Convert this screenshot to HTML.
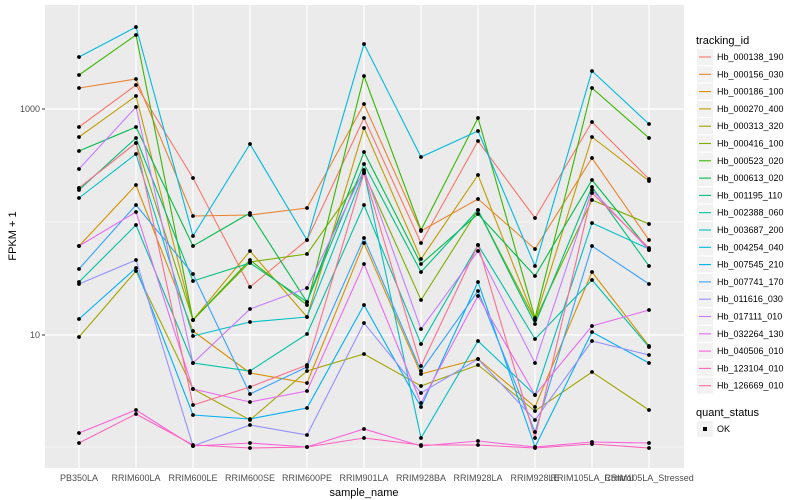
<!DOCTYPE html>
<html><head><meta charset="utf-8"><style>
html,body{margin:0;padding:0;background:#fff;}
svg{display:block;font-family:"Liberation Sans",sans-serif;}
</style></head><body>
<svg id="s" width="800" height="500" viewBox="0 0 800 500" xmlns="http://www.w3.org/2000/svg">
<rect x="0" y="0" width="800" height="500" fill="#fff"/>
<rect x="45" y="5" width="639" height="463" fill="#ebebeb"/>
<g stroke="#fff" stroke-width="0.6">
<line x1="45" x2="684" y1="222" y2="222"/><line x1="45" x2="684" y1="447" y2="447"/>
</g>
<g stroke="#fff" stroke-width="1.2">
<line x1="45" x2="684" y1="109" y2="109"/><line x1="45" x2="684" y1="335" y2="335"/>
<line x1="79" x2="79" y1="5" y2="468"/><line x1="136" x2="136" y1="5" y2="468"/>
<line x1="193" x2="193" y1="5" y2="468"/><line x1="250" x2="250" y1="5" y2="468"/>
<line x1="307" x2="307" y1="5" y2="468"/><line x1="364" x2="364" y1="5" y2="468"/>
<line x1="421" x2="421" y1="5" y2="468"/><line x1="478" x2="478" y1="5" y2="468"/>
<line x1="535" x2="535" y1="5" y2="468"/><line x1="592" x2="592" y1="5" y2="468"/>
<line x1="649" x2="649" y1="5" y2="468"/>
</g>
<g id="series" fill="none" stroke-width="1.1"></g>
<g id="pts" fill="#000"></g>
<g stroke="#333" stroke-width="1">
<line x1="42" x2="45" y1="109" y2="109"/><line x1="42" x2="45" y1="335" y2="335"/>
</g>
<g font-size="9" fill="#4d4d4d" text-anchor="end">
<text x="40" y="112">1000</text><text x="40" y="338">10</text>
</g>
<g font-size="9" fill="#4d4d4d" text-anchor="middle">
<text x="79" y="481">PB350LA</text><text x="136" y="481">RRIM600LA</text>
<text x="193" y="481">RRIM600LE</text><text x="250" y="481">RRIM600SE</text>
<text x="307" y="481">RRIM600PE</text><text x="364" y="481">RRIM901LA</text>
<text x="421" y="481">RRIM928BA</text><text x="478" y="481">RRIM928LA</text>
<text x="535" y="481">RRIM928LE</text><text x="592" y="481">RRIM105LA_Control</text>
<text x="649" y="481">RRIM105LA_Stressed</text>
</g>
<text x="364" y="496" font-size="11" text-anchor="middle" fill="#000">sample_name</text>
<text transform="translate(16,236) rotate(-90)" font-size="11" text-anchor="middle" fill="#000">FPKM + 1</text>
<text x="696" y="44" font-size="11" fill="#000">tracking_id</text>
<g id="leg"></g>
<text x="696" y="416" font-size="11" fill="#000">quant_status</text>
<rect x="697" y="421" width="16" height="16" fill="#f2f2f2"/>
<rect x="703" y="427" width="4" height="4" fill="#000"/>
<text x="717" y="432" font-size="9" fill="#000">OK</text>
</svg>
<script>
var X=[79,136,193,250,307,364,421,478,535,592,649];
var S=[
["Hb_000138_190","#F8766D",[127,85,178,287,240,118,243,141,218,122,179]],
["Hb_000156_030","#EA8331",[88,79,216,215,208,104,231,199,249,158,240]],
["Hb_000186_100","#D89000",[246,185,331,373,383,243,374,359,407,272,346]],
["Hb_000270_400","#C09B00",[137,96,320,251,317,128,259,175,320,137,181]],
["Hb_000313_320","#A3A500",[337,271,389,420,371,354,386,365,411,372,410]],
["Hb_000416_100","#7CAE00",[188,143,320,262,254,173,300,210,320,200,224]],
["Hb_000523_020","#39B600",[75,35,320,260,305,76,230,118,318,88,138]],
["Hb_000613_020","#00BB4E",[151,127,246,213,302,152,264,214,276,180,250]],
["Hb_001195_110","#00BF7D",[190,138,281,263,302,164,272,210,324,187,266]],
["Hb_002388_060","#00C1A3",[282,225,363,371,334,205,344,245,339,280,347]],
["Hb_003687_200","#00BFC4",[198,154,336,322,317,172,438,341,395,223,249]],
["Hb_004254_040","#00BAE0",[57,27,236,144,240,44,157,131,266,71,124]],
["Hb_007545_210","#00B0F6",[319,268,415,419,408,305,407,282,447,332,363]],
["Hb_007741_170","#35A2FF",[269,205,274,394,367,238,371,291,432,246,284]],
["Hb_011616_030","#9590FF",[284,260,446,425,435,323,393,359,420,341,355]],
["Hb_017111_010","#C77CFF",[169,107,363,309,288,170,329,251,363,190,250]],
["Hb_032264_130","#E76BF3",[246,212,389,402,391,264,403,296,395,326,310]],
["Hb_040506_010","#FA62DB",[433,410,446,443,447,429,446,441,447,442,443]],
["Hb_123104_010","#FF62BC",[443,414,445,448,447,438,445,445,448,444,448]],
["Hb_126669_010","#FF6C91",[188,143,405,387,365,173,366,245,438,193,248]]];
var ns="http://www.w3.org/2000/svg",g=document.getElementById("series"),p=document.getElementById("pts"),l=document.getElementById("leg");
function el(t,a,par){var e=document.createElementNS(ns,t);for(var k in a)e.setAttribute(k,a[k]);par.appendChild(e);return e;}
S.forEach(function(s,i){
 el("polyline",{points:s[2].map(function(y,j){return X[j]+","+y}).join(" "),stroke:s[1]},g);
 s[2].forEach(function(y,j){el("circle",{cx:X[j],cy:y,r:1.9},p);});
 var ky=49+i*17.3;
 el("rect",{x:697,y:ky,width:16,height:16,fill:"#f2f2f2"},l);
 el("line",{x1:699,x2:711,y1:ky+8,y2:ky+8,stroke:s[1],"stroke-width":1.1},l);
 var t=el("text",{x:717,y:ky+11,"font-size":9,fill:"#000"},l);t.textContent=s[0];
});
</script>
</body></html>
